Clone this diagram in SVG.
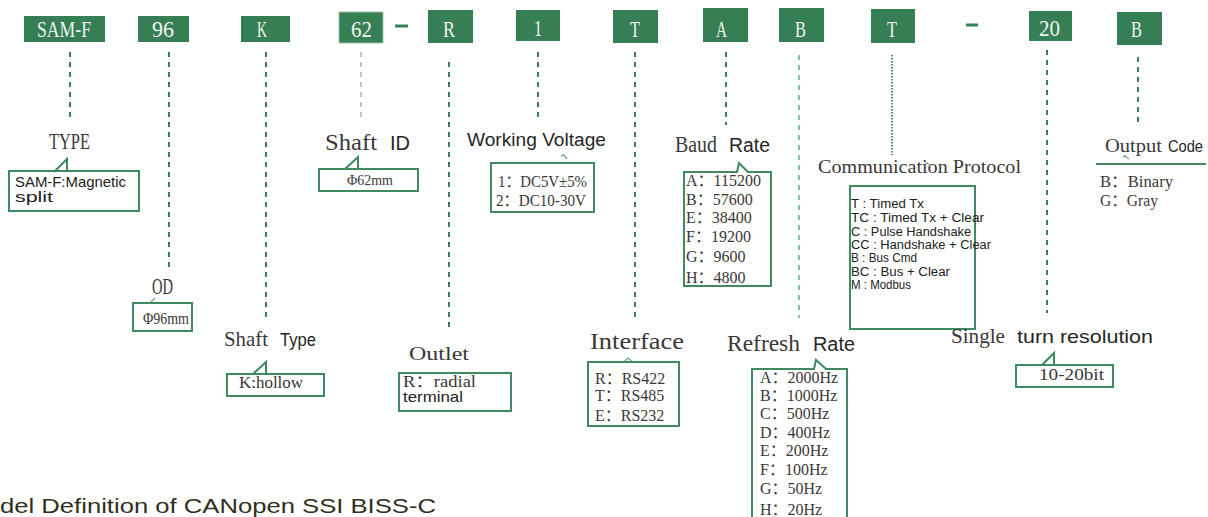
<svg xmlns="http://www.w3.org/2000/svg" width="1208" height="517" viewBox="0 0 1208 517">
<style>
.tb{fill:#367e53}
.tt{font-family:"Liberation Serif",serif;font-size:23px;fill:#eef4ef}
.lb{font-family:"Liberation Serif",serif;font-size:23px;fill:#3b3838}
.ls{font-family:"Liberation Sans",sans-serif;font-size:20px;fill:#262626}
.bx{fill:none;stroke:#3f8a60;stroke-width:2}
.it{font-family:"Liberation Serif","Noto Sans CJK SC",serif;font-size:16px;fill:#3b3838}
.mn{font-family:"Liberation Sans",sans-serif;font-size:15px;fill:#222}
.cp{font-family:"Liberation Sans",sans-serif;font-size:12.5px;fill:#222}
.dl{stroke:#3f7d5f;stroke-width:2;stroke-dasharray:5 5;fill:none}
.tk{fill:none;stroke:#7fae95;stroke-width:1.5}
</style>
<g id="connectors">
<line class="dl" x1="70" y1="52" x2="70" y2="122"/>
<line class="dl" x1="169" y1="52" x2="169" y2="268"/>
<line class="dl" x1="266" y1="52" x2="266" y2="317"/>
<line class="dl" x1="361" y1="52" x2="361" y2="118" style="stroke:#c4c4c4"/>
<line class="dl" x1="449" y1="62" x2="449" y2="327"/>
<line class="dl" x1="538" y1="52" x2="538" y2="122"/>
<line class="dl" x1="635" y1="52" x2="635" y2="318"/>
<line class="dl" x1="726" y1="52" x2="726" y2="125"/>
<line class="dl" x1="799" y1="55" x2="799" y2="318" style="stroke:#86c0a5"/>
<line x1="892" y1="55" x2="892" y2="155" style="stroke:#4a8a6a;stroke-width:2;stroke-dasharray:1.5 1.5"/>
<line class="dl" x1="1047" y1="50" x2="1047" y2="313"/>
<line class="dl" x1="1138" y1="57" x2="1138" y2="125"/>
</g>
<g id="code-boxes">
<g id="c-samf"><rect class="tb" x="24" y="16" width="81" height="26"/><text class="tt" x="37" y="37" textLength="54" lengthAdjust="spacingAndGlyphs">SAM-F</text></g>
<g id="c-96"><rect class="tb" x="138" y="16" width="51" height="26"/><text class="tt" x="152" y="37" textLength="22" lengthAdjust="spacingAndGlyphs">96</text></g>
<g id="c-k"><rect class="tb" x="241" y="16" width="49" height="26"/><text class="tt" x="257" y="37" textLength="10" lengthAdjust="spacingAndGlyphs">K</text></g>
<g id="c-62"><rect class="tb" x="339" y="12" width="44" height="31" style="stroke:#9cc3ad;stroke-width:1"/><text class="tt" x="351" y="37" textLength="21" lengthAdjust="spacingAndGlyphs">62</text></g>
<rect id="sep1" x="395" y="24.5" width="13" height="3" class="tb"/>
<g id="c-r"><rect class="tb" x="428" y="10" width="45" height="33"/><text class="tt" x="443" y="37" textLength="12" lengthAdjust="spacingAndGlyphs">R</text></g>
<g id="c-1"><rect class="tb" x="516" y="10" width="44" height="31"/><text class="tt" x="534" y="36" textLength="8" lengthAdjust="spacingAndGlyphs">1</text></g>
<g id="c-t1"><rect class="tb" x="613" y="10" width="45" height="33"/><text class="tt" x="630" y="37" textLength="10" lengthAdjust="spacingAndGlyphs">T</text></g>
<g id="c-a"><rect class="tb" x="703" y="8" width="45" height="34"/><text class="tt" x="716" y="37" textLength="11" lengthAdjust="spacingAndGlyphs">A</text></g>
<g id="c-b1"><rect class="tb" x="779" y="8" width="45" height="34"/><text class="tt" x="795" y="37" textLength="11" lengthAdjust="spacingAndGlyphs">B</text></g>
<g id="c-t2"><rect class="tb" x="871" y="9" width="44" height="34"/><text class="tt" x="887" y="37" textLength="10" lengthAdjust="spacingAndGlyphs">T</text></g>
<rect id="sep2" x="966" y="23.5" width="12" height="3" class="tb"/>
<g id="c-20"><rect class="tb" x="1029" y="11" width="43" height="30"/><text class="tt" x="1039" y="36" textLength="21" lengthAdjust="spacingAndGlyphs">20</text></g>
<g id="c-b2"><rect class="tb" x="1117" y="12" width="45" height="33"/><text class="tt" x="1131" y="37" textLength="11" lengthAdjust="spacingAndGlyphs">B</text></g>
</g>
<g id="n-type">
<text class="lb" x="49" y="149" textLength="41" lengthAdjust="spacingAndGlyphs">TYPE</text>
<polyline class="bx" points="54,172 67,159 67,171"/>
<rect class="bx" x="9" y="171" width="130" height="40"/>
<text class="mn" x="15" y="187" textLength="111" lengthAdjust="spacingAndGlyphs">SAM-F:Magnetic</text>
<text class="mn" x="15" y="202" textLength="38" lengthAdjust="spacingAndGlyphs">split</text>
</g>
<g id="n-od">
<text class="lb" x="152" y="294" textLength="21" lengthAdjust="spacingAndGlyphs">OD</text>
<polyline class="tk" points="150,303 155,298"/>
<rect class="bx" x="133" y="303" width="59" height="28"/>
<text class="it" x="143" y="324" textLength="46" lengthAdjust="spacingAndGlyphs">Φ96mm</text>
</g>
<g id="n-shaftid">
<text class="lb" x="325" y="150" textLength="52" lengthAdjust="spacingAndGlyphs">Shaft</text>
<text class="ls" x="390" y="150" textLength="20" lengthAdjust="spacingAndGlyphs">ID</text>
<polyline class="bx" points="345,169 358,157 358,169"/>
<rect class="bx" x="319" y="169" width="99" height="22"/>
<text class="it" x="347" y="185" textLength="46" lengthAdjust="spacingAndGlyphs" style="font-size:15px">Φ62mm</text>
</g>
<g id="n-voltage">
<text class="ls" x="467" y="146" textLength="139" lengthAdjust="spacingAndGlyphs" style="font-size:18px">Working Voltage</text>
<polyline class="tk" points="561,156 564,155 567,159"/>
<rect class="bx" x="491" y="163" width="103" height="49"/>
<text class="it" x="498" y="187" textLength="89" lengthAdjust="spacingAndGlyphs">1：DC5V±5%</text>
<text class="it" x="496" y="206" textLength="90" lengthAdjust="spacingAndGlyphs">2：DC10-30V</text>
</g>
<g id="n-baud">
<text class="lb" x="675" y="152" textLength="42" lengthAdjust="spacingAndGlyphs">Baud</text>
<text class="ls" x="729" y="152" textLength="41" lengthAdjust="spacingAndGlyphs">Rate</text>
<path class="bx" d="M737,172 L739,163 L748,172 L771,172 L771,286 L684,286 L684,172 Z"/>
<text class="it" x="686" y="186">A：115200</text>
<text class="it" x="686" y="205">B：57600</text>
<text class="it" x="686" y="223">E：38400</text>
<text class="it" x="686" y="242">F：19200</text>
<text class="it" x="686" y="262">G：9600</text>
<text class="it" x="686" y="283">H：4800</text>
</g>
<g id="n-protocol">
<text class="lb" x="818" y="173" textLength="203" lengthAdjust="spacingAndGlyphs" style="font-size:19px">Communication Protocol</text>
<polyline class="tk" points="925,164 927,163 931,167"/>
<rect class="bx" x="850" y="186" width="125" height="143"/>
<text class="cp" x="851" y="208" textLength="73" lengthAdjust="spacingAndGlyphs">T : Timed Tx</text>
<text class="cp" x="851" y="222" textLength="133" lengthAdjust="spacingAndGlyphs">TC : Timed Tx + Clear</text>
<text class="cp" x="851" y="236" textLength="120" lengthAdjust="spacingAndGlyphs">C : Pulse Handshake</text>
<text class="cp" x="851" y="249" textLength="140" lengthAdjust="spacingAndGlyphs">CC : Handshake + Clear</text>
<text class="cp" x="851" y="262" textLength="66" lengthAdjust="spacingAndGlyphs">B : Bus Cmd</text>
<text class="cp" x="851" y="276" textLength="99" lengthAdjust="spacingAndGlyphs">BC : Bus + Clear</text>
<text class="cp" x="851" y="289" textLength="60" lengthAdjust="spacingAndGlyphs">M : Modbus</text>
</g>
<g id="n-output">
<text class="lb" x="1105" y="152" textLength="57" lengthAdjust="spacingAndGlyphs" style="font-size:19px">Output</text>
<text class="ls" x="1168" y="152" textLength="35" lengthAdjust="spacingAndGlyphs" style="font-size:17px">Code</text>
<polyline class="tk" points="1123,157 1125,156 1129,159"/>
<line class="bx" x1="1096" y1="164" x2="1206" y2="164"/>
<text class="it" x="1100" y="187" textLength="73" lengthAdjust="spacingAndGlyphs">B：Binary</text>
<text class="it" x="1100" y="206" textLength="58" lengthAdjust="spacingAndGlyphs">G：Gray</text>
</g>
<g id="n-resolution">
<text class="lb" x="951" y="343" textLength="54" lengthAdjust="spacingAndGlyphs" style="font-size:21px">Single</text>
<text class="ls" x="1017" y="343" textLength="136" lengthAdjust="spacingAndGlyphs" style="font-size:19px">turn resolution</text>
<polyline class="bx" points="1042,365 1054,353 1054,365"/>
<rect class="bx" x="1016" y="365" width="97" height="22"/>
<text class="it" x="1039" y="380" textLength="65" lengthAdjust="spacingAndGlyphs">10-20bit</text>
</g>
<g id="n-shafttype">
<text class="lb" x="224" y="346" textLength="44" lengthAdjust="spacingAndGlyphs" style="font-size:21px">Shaft</text>
<text class="ls" x="280" y="346" textLength="36" lengthAdjust="spacingAndGlyphs" style="font-size:19px">Type</text>
<polyline class="bx" points="253,374 266,362 266,374"/>
<rect class="bx" x="227" y="374" width="97" height="22"/>
<text class="it" x="239" y="388" textLength="64" lengthAdjust="spacingAndGlyphs">K:hollow</text>
</g>
<g id="n-outlet">
<text class="lb" x="409" y="360" textLength="60" lengthAdjust="spacingAndGlyphs" style="font-size:19px">Outlet</text>
<rect class="bx" x="399" y="373" width="112" height="38"/>
<text class="it" x="403" y="387" textLength="73" lengthAdjust="spacingAndGlyphs">R：radial</text>
<text class="mn" x="403" y="402" textLength="60" lengthAdjust="spacingAndGlyphs">terminal</text>
</g>
<g id="n-interface">
<text class="lb" x="590" y="349" textLength="94" lengthAdjust="spacingAndGlyphs">Interface</text>
<polyline class="tk" points="624,362 628,358 633,362"/>
<rect class="bx" x="588" y="362" width="91" height="64"/>
<text class="it" x="595" y="384">R：RS422</text>
<text class="it" x="595" y="401">T：RS485</text>
<text class="it" x="595" y="421">E：RS232</text>
</g>
<g id="n-refresh">
<text class="lb" x="727" y="351" textLength="73" lengthAdjust="spacingAndGlyphs">Refresh</text>
<text class="ls" x="813" y="351" textLength="42" lengthAdjust="spacingAndGlyphs">Rate</text>
<path class="bx" d="M752,530 L752,369 L814,369 L816,360 L826,369 L847,369 L847,530"/>
<text class="it" x="760" y="383">A：2000Hz</text>
<text class="it" x="760" y="401">B：1000Hz</text>
<text class="it" x="760" y="419">C：500Hz</text>
<text class="it" x="760" y="438">D：400Hz</text>
<text class="it" x="760" y="456">E：200Hz</text>
<text class="it" x="760" y="475">F：100Hz</text>
<text class="it" x="760" y="494">G：50Hz</text>
<text class="it" x="760" y="515">H：20Hz</text>
</g>
<text id="caption" x="0" y="513" textLength="436" lengthAdjust="spacingAndGlyphs" style="font-family:'Liberation Sans',sans-serif;font-size:21px;fill:#2f3020">del Definition of CANopen SSI BISS-C</text>
</svg>
